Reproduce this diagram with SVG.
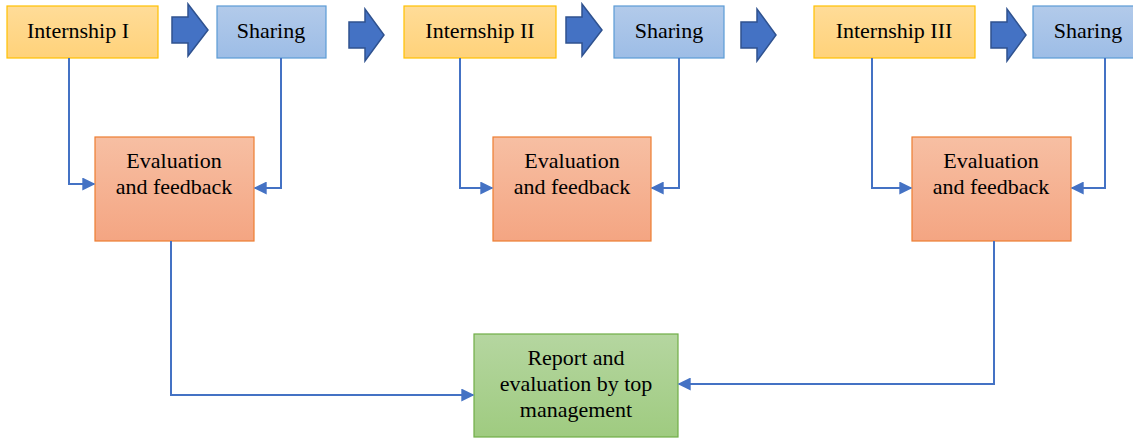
<svg xmlns="http://www.w3.org/2000/svg" width="1133" height="438" viewBox="0 0 1133 438">
<defs>
<linearGradient id="gY" x1="0" y1="0" x2="0" y2="1"><stop offset="0" stop-color="#FFDC98"/><stop offset="1" stop-color="#FFD27A"/></linearGradient>
<linearGradient id="gB" x1="0" y1="0" x2="0" y2="1"><stop offset="0" stop-color="#B2CAEA"/><stop offset="1" stop-color="#9DBDE6"/></linearGradient>
<linearGradient id="gO" x1="0" y1="0" x2="0" y2="1"><stop offset="0" stop-color="#F7BFA3"/><stop offset="1" stop-color="#F4A582"/></linearGradient>
<linearGradient id="gG" x1="0" y1="0" x2="0" y2="1"><stop offset="0" stop-color="#B5D6A0"/><stop offset="1" stop-color="#9FCB80"/></linearGradient>
<marker id="ah" viewBox="0 0 10 10" refX="9" refY="5" markerWidth="6.5" markerHeight="6.5" orient="auto" markerUnits="strokeWidth"><path d="M0,0 L10,5 L0,10 z" fill="#4472C4"/></marker>
</defs>
<style>
.t{font-family:"Liberation Serif","Times New Roman",serif;font-size:22px;fill:#000;text-anchor:middle}
.y{fill:url(#gY);stroke:#FFC000;stroke-width:1.2}
.b{fill:url(#gB);stroke:#5B9BD5;stroke-width:1.2}
.o{fill:url(#gO);stroke:#ED7D31;stroke-width:1.2}
.g{fill:url(#gG);stroke:#70AD47;stroke-width:1.2}
.ba{fill:#4472C4;stroke:#2F528F;stroke-width:1.5}
.c{fill:none;stroke:#4472C4;stroke-width:2;marker-end:url(#ah)}
</style>
<g id="int1"><rect class="y" x="7" y="6" width="151" height="52"/><text class="t" x="78" y="38">Internship I</text></g>
<g id="share1"><rect class="b" x="217" y="6" width="109" height="52"/><text class="t" x="271" y="38">Sharing</text></g>
<g id="int2"><rect class="y" x="404" y="6" width="152" height="52"/><text class="t" x="480" y="38">Internship II</text></g>
<g id="share2"><rect class="b" x="614" y="6" width="110" height="52"/><text class="t" x="669" y="38">Sharing</text></g>
<g id="int3"><rect class="y" x="814" y="6" width="161" height="52"/><text class="t" x="894" y="38">Internship III</text></g>
<g id="share3"><rect class="b" x="1033" y="6" width="110" height="52"/><text class="t" x="1088" y="38">Sharing</text></g>
<g id="arrows">
<polygon class="ba" points="172,17 188,17 188,4 208,30 188,56 188,43 172,43"/>
<polygon class="ba" points="349,22 365,22 365,9 384,35 365,61 365,48 349,48"/>
<polygon class="ba" points="566,17 582,17 582,4 602,30 582,56 582,43 566,43"/>
<polygon class="ba" points="741,22 757,22 757,9 776,35 757,61 757,48 741,48"/>
<polygon class="ba" points="991,22 1007,22 1007,9 1026,35 1007,61 1007,48 991,48"/>
</g>
<g id="eval1"><rect class="o" x="95" y="137" width="159" height="104"/><text class="t" x="174" y="168">Evaluation</text><text class="t" x="174" y="194">and feedback</text></g>
<g id="eval2"><rect class="o" x="493" y="137" width="158" height="104"/><text class="t" x="572" y="168">Evaluation</text><text class="t" x="572" y="194">and feedback</text></g>
<g id="eval3"><rect class="o" x="912" y="137" width="159" height="104"/><text class="t" x="991" y="168">Evaluation</text><text class="t" x="991" y="194">and feedback</text></g>
<g id="report"><rect class="g" x="474" y="334" width="204" height="103"/><text class="t" x="576" y="365">Report and</text><text class="t" x="576" y="391">evaluation by top</text><text class="t" x="576" y="417">management</text></g>
<g id="connectors">
<path class="c" d="M69,58 V184 H94"/>
<path class="c" d="M281,58 V188 H255"/>
<path class="c" d="M460,58 V188 H492"/>
<path class="c" d="M679,58 V188 H652"/>
<path class="c" d="M872,58 V188 H911"/>
<path class="c" d="M1105,58 V188 H1072"/>
<path class="c" d="M171,241 V395 H473"/>
<path class="c" d="M994,241 V384 H679"/>
</g>
</svg>
